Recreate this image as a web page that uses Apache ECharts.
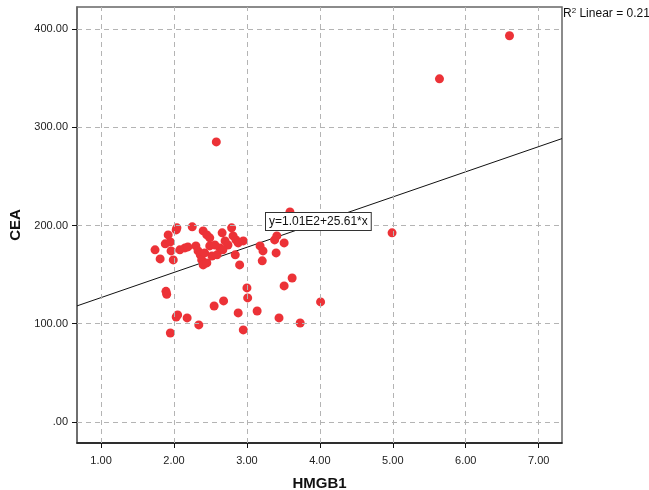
<!DOCTYPE html>
<html><head><meta charset="utf-8">
<script src="https://cdn.jsdelivr.net/npm/echarts@6/dist/echarts.min.js"></script>
<style>html,body{margin:0;padding:0;background:#fff}#c{width:649px;height:490px}</style>
</head><body><div id="c"></div>
<script>
// HMGB1 (x) values
const hmgb1 = [1.74,1.81,1.88,1.92,1.96,1.99,2.03,2.04,1.95,2.08,2.15,2.25,2.30,2.33,2.36,2.38,2.40,2.45,2.40,2.45,
2.49,2.49,2.56,2.63,2.52,2.59,2.66,2.70,2.74,2.79,2.81,2.85,2.88,2.95,2.67,2.84,2.90,3.18,3.22,3.21,
3.38,3.41,3.40,3.51,3.59,2.42,2.19,
1.89,1.90,1.95,2.03,2.05,2.18,2.34,2.55,2.68,2.88,2.95,3.00,3.01,3.14,3.44,3.73,3.51,3.62,4.01,
6.60,5.64,2.58,4.99];
// CEA (y) values
const cea = [175.2,166.0,181.3,190.4,174.1,165.0,195.5,197.6,183.3,175.2,177.2,198.6,179.2,174.1,170.1,165.0,159.9,161.9,194.5,190.4,
187.4,179.2,180.2,177.2,169.0,170.1,192.5,184.3,180.2,197.6,189.4,185.3,182.3,184.3,175.2,170.1,159.9,179.2,174.1,164.0,
185.3,189.4,172.1,182.3,213.8,172.1,178.2,
133.0,130.0,90.6,106.9,109.0,105.9,98.8,118.1,123.2,111.0,93.7,136.5,126.3,113.0,105.9,100.8,138.5,146.6,122.2,
393.1,349.3,285.1,192.5];
const xTicks = [1,2,3,4,5,6,7];
const yTicks = [0,100,200,300,400];
const fitIntercept = 101;
const fitSlope = 25.61;
const xRange = [0.67, 7.32];
const yRange = [-21.4, 422.4];
const r2Text = '0.211';

const pts = hmgb1.map((x,i)=>[x,cea[i]]);
const fitLine = xRange.map(x=>[x, fitIntercept + fitSlope*x]);
const fmtY = v => v===0 ? '.00' : v.toFixed(2);

const chart = echarts.init(document.getElementById('c'));
const dash = {color:'#b4b4b4', type:[5,4], width:1};
chart.setOption({
  animation:false,
  grid:{left:77, right:87, top:7, bottom:47, outerBoundsMode:'none', containLabel:false, show:true, borderColor:'#666', borderWidth:1.5, backgroundColor:'#fff'},
  xAxis:{type:'value', min:xRange[0], max:xRange[1],
    name:'HMGB1', nameLocation:'middle', nameGap:33,
    nameTextStyle:{fontFamily:'Liberation Sans, Arial', fontWeight:'bold', fontSize:15, color:'#111'},
    axisLine:{onZero:false, lineStyle:{color:'#111', width:1.5}},
    axisTick:{show:true, length:5, customValues:xTicks, lineStyle:{color:'#111'}},
    axisLabel:{customValues:xTicks, formatter:v=>v.toFixed(2), fontFamily:'Liberation Sans, Arial', fontSize:11, color:'#222', margin:12},
    splitLine:{show:false}},
  yAxis:{type:'value', min:yRange[0], max:yRange[1],
    name:'CEA', nameLocation:'middle', nameGap:53, nameRotate:90,
    nameTextStyle:{fontFamily:'Liberation Sans, Arial', fontWeight:'bold', fontSize:15, color:'#111'},
    axisLine:{show:true, onZero:false, lineStyle:{color:'#666', width:1.5}},
    axisTick:{show:true, length:5, customValues:yTicks, lineStyle:{color:'#111'}},
    axisLabel:{customValues:yTicks, formatter:fmtY, fontFamily:'Liberation Sans, Arial', fontSize:11, color:'#222', margin:9},
    splitLine:{show:false}},
  series:[
    {type:'line', data:[], silent:true,
      markLine:{silent:true, symbol:'none', label:{show:false}, lineStyle:dash,
        data: xTicks.map(v=>({xAxis:v})).concat(yTicks.map(v=>({yAxis:v})))}},
    {type:'line', data:fitLine, symbol:'none', lineStyle:{color:'#111', width:1}, silent:true, z:3},
    {type:'scatter', data:pts, symbolSize:9, itemStyle:{color:'#ec3237', opacity:1}, z:4}
  ],
  graphic:[
    {type:'text', left:265, top:212, z:10, style:{text:'y=1.01E2+' + fitSlope.toFixed(2) + '*x', fontFamily:'Liberation Sans, Arial', fontSize:12, fill:'#111',
      backgroundColor:'#fff', borderColor:'#333', borderWidth:1, padding:[3,3,2,3]}},
    {type:'text', left:563, top:7, z:10, style:{text:'{a|R}{s|2}{a| Linear = ' + r2Text + '}', rich:{
      a:{fontFamily:'Liberation Sans, Arial', fontSize:12, fill:'#111', verticalAlign:'bottom'},
      s:{fontFamily:'Liberation Sans, Arial', fontSize:8, fill:'#111', verticalAlign:'top', padding:[0,0,5,0]}}}}
  ]
});
</script></body></html>
